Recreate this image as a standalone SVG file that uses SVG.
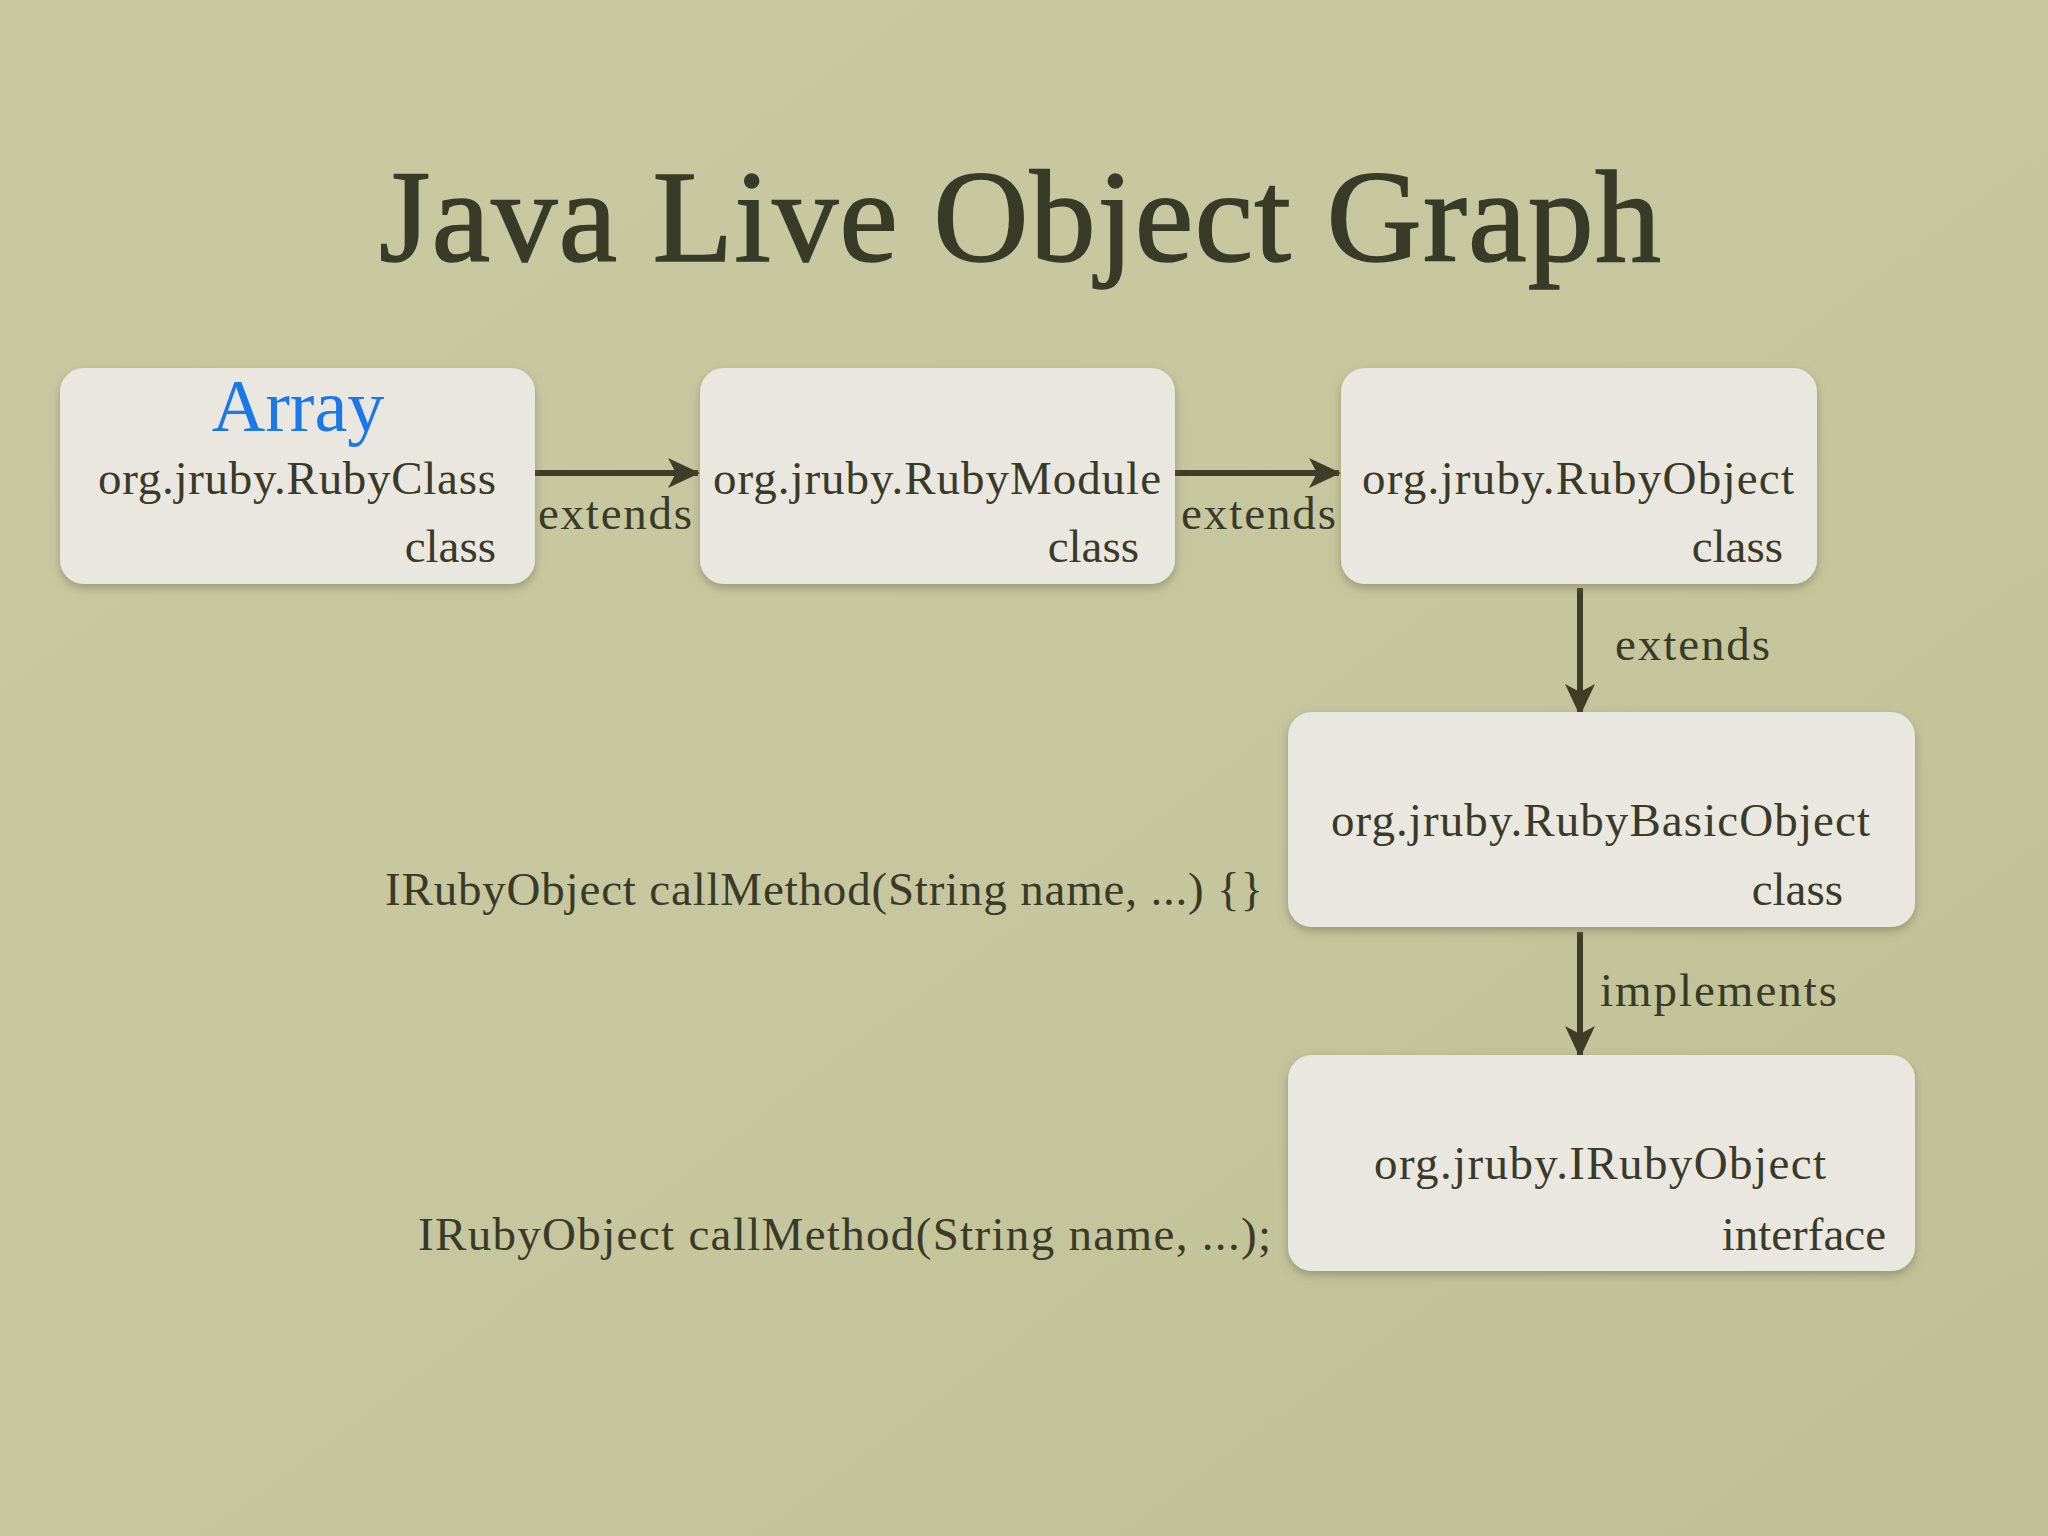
<svg xmlns="http://www.w3.org/2000/svg" width="2048" height="1536" viewBox="0 0 2048 1536">
<defs>
<linearGradient id="bg" x1="0" y1="0" x2="1" y2="1">
<stop offset="0" stop-color="#c9c9a2"/><stop offset="0.5" stop-color="#c6c79e"/><stop offset="1" stop-color="#bfc095"/>
</linearGradient>
<filter id="sh" x="-10%" y="-10%" width="120%" height="130%"><feDropShadow dx="0" dy="4" stdDeviation="5" flood-color="#6b6b50" flood-opacity="0.5"/></filter>
<marker id="ah" markerWidth="32" markerHeight="30" refX="30" refY="15" orient="auto" markerUnits="userSpaceOnUse" viewBox="0 0 32 30">
<path d="M0,0 L32,15 L0,30 L8,15 z" fill="#3d3d28"/>
</marker>
</defs>
<style>
.box{fill:#e9e7df;filter:url(#sh)}
text{font-family:"Liberation Serif","DejaVu Serif",serif;fill:#3a3a28}
.t{font-size:47px}
.r{text-anchor:end}
.c{stroke:#3d3d28;stroke-width:6;fill:none}
</style>
<rect width="2048" height="1536" fill="url(#bg)"/>
<text x="1020" y="261" text-anchor="middle" font-size="132" textLength="1282" stroke="#3a3a28" stroke-width="1.5">Java Live Object Graph</text>
<g id="connectors">
<line class="c" x1="535" y1="473" x2="698" y2="473" marker-end="url(#ah)"/>
<line class="c" x1="1175" y1="473" x2="1339" y2="473" marker-end="url(#ah)"/>
<line class="c" x1="1580" y1="588" x2="1580" y2="714" marker-end="url(#ah)"/>
<line class="c" x1="1580" y1="932" x2="1580" y2="1056" marker-end="url(#ah)"/>
<text class="t" x="538" y="529" textLength="154">extends</text>
<text class="t" x="1181" y="529" textLength="155">extends</text>
<text class="t" x="1615" y="660" textLength="155">extends</text>
<text class="t" x="1600" y="1006" textLength="237">implements</text>
</g>
<g id="n1">
<rect class="box" x="60" y="368" width="475" height="216" rx="24"/>
<text x="298" y="431" text-anchor="middle" font-size="74" style="fill:#1a78e8">Array</text>
<text class="t" x="98" y="494" textLength="398">org.jruby.RubyClass</text>
<text class="t r" x="496" y="562">class</text>
</g>
<g id="n2">
<rect class="box" x="700" y="368" width="475" height="216" rx="24"/>
<text class="t" x="713" y="494" textLength="448">org.jruby.RubyModule</text>
<text class="t r" x="1139" y="562">class</text>
</g>
<g id="n3">
<rect class="box" x="1341" y="368" width="476" height="216" rx="24"/>
<text class="t" x="1362" y="494" textLength="432">org.jruby.RubyObject</text>
<text class="t r" x="1783" y="562">class</text>
</g>
<g id="n4">
<rect class="box" x="1288" y="712" width="627" height="215" rx="24"/>
<text class="t" x="1331" y="836" textLength="539">org.jruby.RubyBasicObject</text>
<text class="t r" x="1843" y="905">class</text>
</g>
<g id="n5">
<rect class="box" x="1288" y="1055" width="627" height="216" rx="24"/>
<text class="t" x="1374" y="1179" textLength="452">org.jruby.IRubyObject</text>
<text class="t r" x="1886" y="1250">interface</text>
</g>
<text class="t" x="385" y="905" textLength="878">IRubyObject callMethod(String name, ...) {}</text>
<text class="t" x="418" y="1250" textLength="853">IRubyObject callMethod(String name, ...);</text>
</svg>
